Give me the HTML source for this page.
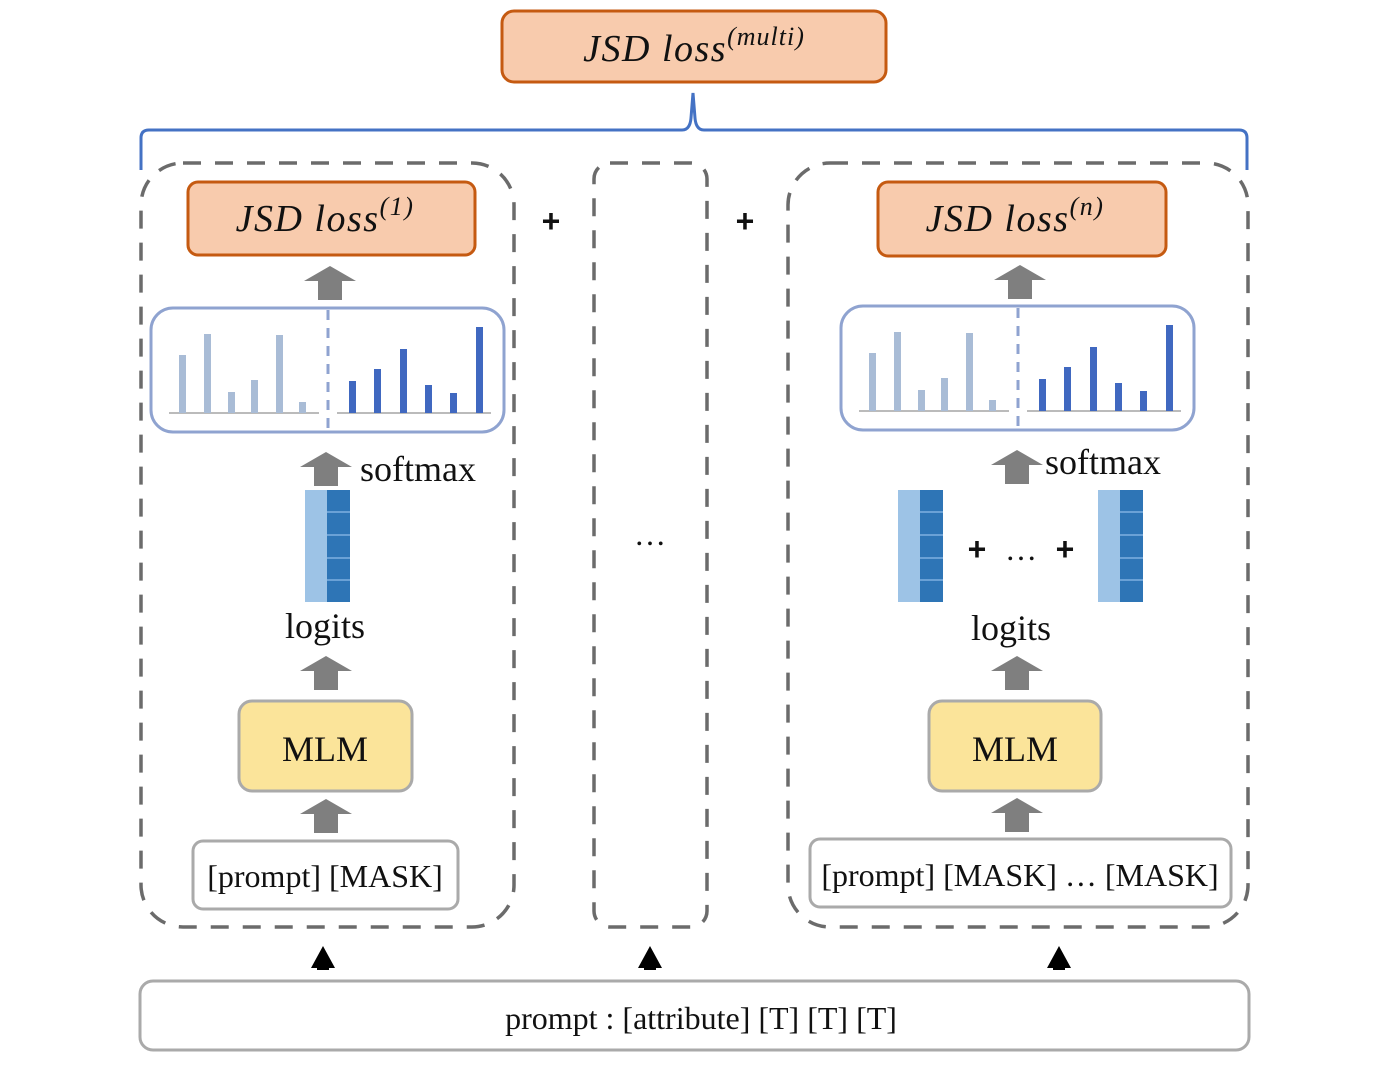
<!DOCTYPE html>
<html><head><meta charset="utf-8"><style>
html,body{margin:0;padding:0;background:#fff;}
svg{display:block;}
.serif{font-family:"Liberation Serif",serif;}
</style></head><body>
<svg width="1397" height="1067" viewBox="0 0 1397 1067" xmlns="http://www.w3.org/2000/svg">
<defs>
<g id="barr"><polygon points="-26,15 0,0 26,15 12,15 12,34 -12,34 -12,15" fill="#7f7f7f"/></g>
<g id="vec">
<rect x="0" y="0" width="22" height="112" fill="#9dc3e6"/>
<rect x="22" y="0" width="23" height="112" fill="#2e75b6"/>
<g stroke="#7fb0e0" stroke-width="1.5"><line x1="22" y1="22" x2="45" y2="22"/><line x1="22" y1="45" x2="45" y2="45"/><line x1="22" y1="68" x2="45" y2="68"/><line x1="22" y1="90" x2="45" y2="90"/></g>
</g>
<g id="chart">
<rect x="0" y="0" width="353" height="124" rx="22" fill="#fff" stroke="#8fa3d0" stroke-width="3"/>
<line x1="177" y1="2" x2="177" y2="124" stroke="#8fa3d0" stroke-width="3" stroke-dasharray="10,8"/>
<line x1="18" y1="105" x2="168" y2="105" stroke="#777" stroke-width="1"/>
<line x1="186" y1="105" x2="340" y2="105" stroke="#777" stroke-width="1"/>
<g fill="#a9bcd6">
<rect x="28" y="47" width="7" height="58"/><rect x="53" y="26" width="7" height="79"/><rect x="77" y="84" width="7" height="21"/><rect x="100" y="72" width="7" height="33"/><rect x="125" y="27" width="7" height="78"/><rect x="148" y="94" width="7" height="11"/>
</g>
<g fill="#4068c0">
<rect x="198" y="73" width="7" height="32"/><rect x="223" y="61" width="7" height="44"/><rect x="249" y="41" width="7" height="64"/><rect x="274" y="77" width="7" height="28"/><rect x="299" y="85" width="7" height="20"/><rect x="325" y="19" width="7" height="86"/>
</g>
</g>
</defs>

<rect x="502" y="11" width="384" height="71" rx="12" fill="#f8cbad" stroke="#c55a11" stroke-width="3"/>
<text x="694" y="61" text-anchor="middle" class="serif" font-style="italic" font-size="38" letter-spacing="1.5" fill="#111">JSD loss<tspan font-size="26" dy="-16" letter-spacing="1">(multi)</tspan></text>

<path d="M141,170 L141,138 Q141,130 149,130 L682,130 Q690,130 691,118 L693,93 L695,118 Q696,130 704,130 L1239,130 Q1247,130 1247,138 L1247,170" fill="none" stroke="#4472c4" stroke-width="3"/>

<g fill="none" stroke="#6b6b6b" stroke-width="3.5" stroke-dasharray="18,14">
<rect x="141" y="163" width="373" height="764" rx="42"/>
<rect x="594" y="163" width="113" height="764" rx="16"/>
<rect x="788" y="163" width="460" height="764" rx="42"/>
</g>

<text x="551" y="232" text-anchor="middle" font-family="Liberation Sans,sans-serif" font-weight="bold" font-size="32" fill="#111">+</text>
<text x="745" y="232" text-anchor="middle" font-family="Liberation Sans,sans-serif" font-weight="bold" font-size="32" fill="#111">+</text>
<text x="650" y="545" text-anchor="middle" class="serif" font-size="32" fill="#111">…</text>

<rect x="188" y="182" width="287" height="73" rx="10" fill="#f8cbad" stroke="#c55a11" stroke-width="3"/>
<text x="325" y="231" text-anchor="middle" class="serif" font-style="italic" font-size="38" letter-spacing="1.5" fill="#111">JSD loss<tspan font-size="26" dy="-16">(1)</tspan></text>
<use href="#barr" x="330" y="266"/>
<use href="#chart" x="151" y="308"/>
<use href="#barr" x="326" y="452"/>
<text x="360" y="481" class="serif" font-size="36" fill="#111">softmax</text>
<use href="#vec" x="305" y="490"/>
<text x="325" y="638" text-anchor="middle" class="serif" font-size="36" fill="#111">logits</text>
<use href="#barr" x="326" y="656"/>
<rect x="239" y="701" width="173" height="90" rx="13" fill="#fbe49a" stroke="#aaa" stroke-width="3"/>
<text x="325" y="761" text-anchor="middle" class="serif" font-size="36" fill="#111">MLM</text>
<use href="#barr" x="326" y="799"/>
<rect x="193" y="841" width="265" height="68" rx="10" fill="#fff" stroke="#aaa" stroke-width="3"/>
<text x="325" y="887" text-anchor="middle" class="serif" font-size="32" fill="#111">[prompt] [MASK]</text>

<rect x="878" y="182" width="288" height="74" rx="10" fill="#f8cbad" stroke="#c55a11" stroke-width="3"/>
<text x="1015" y="231" text-anchor="middle" class="serif" font-style="italic" font-size="38" letter-spacing="1.5" fill="#111">JSD loss<tspan font-size="26" dy="-16">(n)</tspan></text>
<use href="#barr" x="1020" y="265"/>
<use href="#chart" x="841" y="306"/>
<use href="#barr" x="1017" y="450"/>
<text x="1045" y="474" class="serif" font-size="36" fill="#111">softmax</text>
<use href="#vec" x="898" y="490"/>
<use href="#vec" x="1098" y="490"/>
<text x="977" y="560" text-anchor="middle" font-family="Liberation Sans,sans-serif" font-weight="bold" font-size="32" fill="#111">+</text>
<text x="1021" y="560" text-anchor="middle" class="serif" font-size="32" fill="#111">…</text>
<text x="1065" y="560" text-anchor="middle" font-family="Liberation Sans,sans-serif" font-weight="bold" font-size="32" fill="#111">+</text>
<text x="1011" y="640" text-anchor="middle" class="serif" font-size="36" fill="#111">logits</text>
<use href="#barr" x="1017" y="656"/>
<rect x="929" y="701" width="172" height="90" rx="13" fill="#fbe49a" stroke="#aaa" stroke-width="3"/>
<text x="1015" y="761" text-anchor="middle" class="serif" font-size="36" fill="#111">MLM</text>
<use href="#barr" x="1017" y="798"/>
<rect x="810" y="839" width="421" height="68" rx="10" fill="#fff" stroke="#aaa" stroke-width="3"/>
<text x="1020" y="886" text-anchor="middle" class="serif" font-size="32" fill="#111">[prompt] [MASK] … [MASK]</text>

<g fill="#000">
<polygon points="311,968 323,946 335,968 329,968 329,970 317,970 317,968"/>
<polygon points="638,968 650,946 662,968 656,968 656,970 644,970 644,968"/>
<polygon points="1047,968 1059,946 1071,968 1065,968 1065,970 1053,970 1053,968"/>
</g>

<rect x="140" y="981" width="1109" height="69" rx="13" fill="#fff" stroke="#aaa" stroke-width="3"/>
<text x="701" y="1029" text-anchor="middle" class="serif" font-size="32" fill="#111">prompt : [attribute] [T] [T] [T]</text>
</svg>
</body></html>
